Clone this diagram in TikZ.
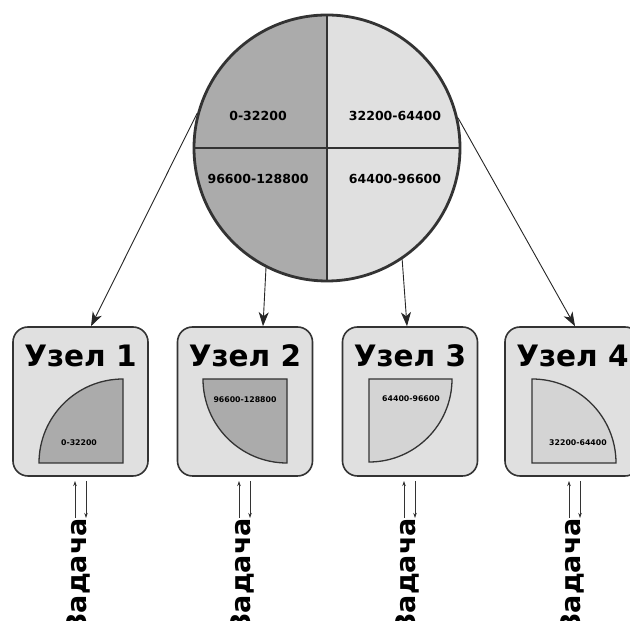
\documentclass[tikz,border=0pt]{standalone}
\usepackage{fontspec}
\setmainfont{DejaVu Sans}
\usetikzlibrary{arrows.meta}

\definecolor{temn}{HTML}{ABABAB}
\definecolor{svetl}{HTML}{E0E0E0}
\definecolor{svetlch}{HTML}{D4D4D4}
\definecolor{obvod}{HTML}{333333}

\tikzset{
  uzel/.style={draw=obvod, fill=svetl, line width=1.6pt, rounded corners=15pt,
    minimum width=135pt, minimum height=149pt, inner sep=0pt},
  zagolovok/.style={font=\bfseries\fontsize{29.5}{31}\selectfont, inner sep=0pt, anchor=base},
  metka/.style={font=\bfseries\fontsize{12.5}{14}\selectfont, inner sep=0pt},
  malaya/.style={font=\bfseries\fontsize{7.8}{9}\selectfont, inner sep=0pt},
  chetvert/.style={draw=obvod, line width=1.3pt},
  strelka/.style={draw=black!85, line width=0.9pt, -{Stealth[length=14pt,width=10pt,inset=4pt]}},
  malstr/.style={draw=black!80, line width=0.7pt, -{Stealth[length=5pt,width=3.5pt]}},
  zadacha/.style={font=\bfseries\fontsize{27}{29}\selectfont, rotate=90, anchor=base east, inner sep=0pt}
}

\begin{document}
\begin{tikzpicture}[x=1pt,y=1pt]
\useasboundingbox (0,0) rectangle (630,621);

% Круг с диапазонами
\coordinate (c) at (327,473);
\fill[temn] (c) -- ++(0,133pt) arc[start angle=90,end angle=270,radius=133pt] -- cycle;
\fill[svetl] (c) -- ++(0,-133pt) arc[start angle=-90,end angle=90,radius=133pt] -- cycle;
\draw[obvod, line width=2.8pt] (c) ++(-133pt,0) -- ++(266pt,0);
\draw[obvod, line width=2.8pt] (c) ++(0,-133pt) -- ++(0,266pt);
\node[circle, draw=obvod, line width=2.8pt, minimum size=266pt, inner sep=0pt] (circ) at (c) {};

\node[metka] (l1) at (258,505) {0-32200};
\node[metka] (l2) at (395,505) {32200-64400};
\node[metka] (l3) at (258,442) {96600-128800};
\node[metka] (l4) at (395,442) {64400-96600};

% Узлы
\foreach \i/\x in {1/80.5, 2/245, 3/410, 4/572.5} {
  \node[uzel] (n\i) at (\x,219.5) {};
  \node[zagolovok] (h\i) at ([yshift=-40pt]n\i.north) {Узел \i};
}

% Части круга в узлах
\draw[chetvert, fill=temn] (123,158) -- (39,158) arc[start angle=180,end angle=90,radius=84pt] -- cycle;
\node[malaya] (m1) at (79,178) {0-32200};
\draw[chetvert, fill=temn] (287,242) -- (203,242) arc[start angle=180,end angle=270,radius=84pt] -- cycle;
\node[malaya] (m2) at (245,221) {96600-128800};
\draw[chetvert, fill=svetlch] (369,242) -- (452,242) arc[start angle=0,end angle=-90,radius=83pt] -- cycle;
\node[malaya] (m3) at (411,222) {64400-96600};
\draw[chetvert, fill=svetlch] (532,158) -- (616,158) arc[start angle=0,end angle=90,radius=84pt] -- cycle;
\node[malaya] (m4) at (578,178) {32200-64400};

% Стрелки от круга к узлам
\draw[strelka] (circ.165) -- ([xshift=10.5pt]n1.north);
\draw[strelka] (circ.243) -- ([xshift=18pt]n2.north);
\draw[strelka] (circ.304) -- ([xshift=-3pt]n3.north);
\draw[strelka] (circ.13) -- ([xshift=2.5pt]n4.north);

% Задачи
\foreach \i/\x in {1/86, 2/250, 3/415, 4/580} {
  \node[zadacha] (t\i) at (\x,103) {Задача};
  \draw[malstr] ([xshift=-11pt]t\i.base east) -- ++(0,37pt);
  \draw[malstr] ([yshift=37pt]t\i.base east) -- (t\i.base east);
}
\end{tikzpicture}
\end{document}
